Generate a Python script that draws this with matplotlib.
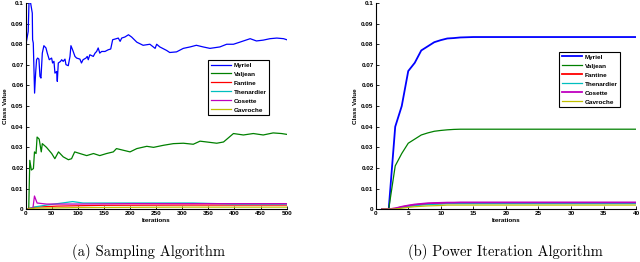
import numpy as np
import matplotlib
matplotlib.use("Agg")
import matplotlib.pyplot as plt

# ---------------- data: sampling algorithm ----------------
samp_myriel_x = [0, 5, 7, 9.6, 12.8, 13.4, 14.7, 17.2, 19.2, 21, 23, 25.5, 27.5, 29.4, 32, 35, 39,
                 41.5, 45.3, 49.8, 51.7, 54.3, 56.2, 59.4, 60.7, 62.6, 67, 69, 72, 75.4, 77.3, 81.7,
                 85, 86.8, 90, 94.5, 97.7, 104, 107, 110, 115.6, 118, 120, 123, 129.6, 133, 136,
                 139, 142, 145.6, 152, 158, 163, 166.7, 171, 177.5, 181, 184, 190, 197, 203, 213,
                 225, 238, 248, 251, 257, 270, 276, 289, 302, 315, 327, 340, 353, 372, 385, 398,
                 410, 430, 442, 455, 468, 481, 494, 500]
samp_myriel_y = [0.079, 0.0862, 0.105, 0.1, 0.0951, 0.0822, 0.0806, 0.0563, 0.066, 0.0725, 0.0733,
                 0.0728, 0.0644, 0.0636, 0.0757, 0.0793, 0.0782, 0.0757, 0.0725, 0.0733, 0.0709,
                 0.0717, 0.066, 0.0668, 0.062, 0.0709, 0.0717, 0.0725, 0.0717, 0.0728, 0.0701,
                 0.0696, 0.0741, 0.0793, 0.0773, 0.0741, 0.0733, 0.0728, 0.0709, 0.0725, 0.0733,
                 0.0741, 0.0725, 0.0749, 0.0741, 0.0757, 0.0765, 0.0782, 0.0757, 0.0765, 0.0765,
                 0.0773, 0.0777, 0.0822, 0.0825, 0.083, 0.0814, 0.083, 0.0835, 0.0846, 0.0835,
                 0.081, 0.0795, 0.080, 0.078, 0.080, 0.0787, 0.077, 0.076, 0.0763, 0.078, 0.0787,
                 0.0795, 0.0787, 0.078, 0.0787, 0.080, 0.080, 0.081, 0.0827, 0.0816, 0.082, 0.0827,
                 0.083, 0.0827, 0.0822]

samp_valjean_x = [0, 6, 8, 11, 15, 17, 20, 22, 26, 30, 32, 40, 50, 56, 63, 72, 82, 88, 94, 104,
                  117, 130, 142, 155, 168, 174, 187, 200, 213, 232, 245, 264, 283, 302, 321, 334,
                  347, 366, 379, 398, 417, 436, 455, 474, 490, 500]
samp_valjean_y = [0.0, 0.0, 0.0237, 0.019, 0.0197, 0.0278, 0.027, 0.035, 0.034, 0.0278, 0.0318,
                  0.030, 0.027, 0.0245, 0.0278, 0.0254, 0.024, 0.0245, 0.0278, 0.027, 0.026,
                  0.027, 0.026, 0.027, 0.0278, 0.0294, 0.0286, 0.0278, 0.0294, 0.0305, 0.030,
                  0.031, 0.0318, 0.032, 0.0315, 0.033, 0.0326, 0.032, 0.0326, 0.0367, 0.036,
                  0.0367, 0.036, 0.037, 0.0367, 0.0363]

samp_fantine_x = [0, 8, 20, 60, 150, 300, 500]
samp_fantine_y = [0.0, 0.0005, 0.001, 0.0015, 0.0019, 0.002, 0.002]

samp_thenardier_x = [0, 10, 15, 40, 70, 90, 110, 200, 320, 400, 500]
samp_thenardier_y = [0.0, 0.0005, 0.001, 0.002, 0.003, 0.0037, 0.003, 0.003, 0.003, 0.0025, 0.0025]

samp_cosette_x = [0, 14, 17, 22, 40, 100, 200, 350, 500]
samp_cosette_y = [0.0, 0.0005, 0.0064, 0.003, 0.0025, 0.0025, 0.0027, 0.0027, 0.0027]

samp_gavroche_x = [0, 10, 20, 100, 300, 500]
samp_gavroche_y = [0.0, 0.0003, 0.0005, 0.0008, 0.001, 0.001]

# ---------------- data: power iteration ----------------
pow_x = list(range(1, 41))
pow_myriel = [0.0, 0.0, 0.040, 0.050, 0.067, 0.071, 0.077, 0.079, 0.081, 0.082, 0.0828, 0.083,
              0.0833, 0.0834] + [0.0835] * 26
pow_valjean = [0.0, 0.0, 0.021, 0.027, 0.032, 0.034, 0.036, 0.037, 0.0378, 0.0382, 0.0385,
               0.0387] + [0.0388] * 28
pow_fantine = [0.0, 0.0, 0.0003, 0.001, 0.0016, 0.002, 0.0024, 0.0026, 0.0028, 0.0029] + [0.003] * 30
pow_thenardier = [0.0, 0.0, 0.0002, 0.0008, 0.0013, 0.0017, 0.002, 0.0022, 0.0024, 0.0025] + [0.0027] * 30
pow_cosette = [0.0, 0.0, 0.0004, 0.0012, 0.0018, 0.0023, 0.0026, 0.0029, 0.003, 0.0031, 0.0032,
               0.0032] + [0.0033] * 28
pow_gavroche = [0.0, 0.0, 0.0001, 0.0005, 0.0009, 0.0012, 0.0014, 0.0016, 0.0017, 0.0018] + [0.002] * 30

names = ["Myriel", "Valjean", "Fantine", "Thenardier", "Cosette", "Gavroche"]
colors = ["#0000ff", "#008000", "#ff0000", "#00bfbf", "#bf00bf", "#bfbf00"]
y_ticks = [0, 0.01, 0.02, 0.03, 0.04, 0.05, 0.06, 0.07, 0.08, 0.09, 0.1]
y_tick_labels = ["0", "0.01", "0.02", "0.03", "0.04", "0.05", "0.06", "0.07", "0.08", "0.09", "0.1"]
left_xticks = list(range(0, 501, 50))
right_xticks = list(range(0, 41, 5))
captions = ["(a) Sampling Algorithm", "(b) Power Iteration Algorithm"]

fig = plt.figure(figsize=(6.4, 2.62), dpi=100)
axL = fig.add_axes([0.040, 0.2015, 0.408, 0.787])
axR = fig.add_axes([0.587, 0.2015, 0.407, 0.787])

samp = [(samp_myriel_x, samp_myriel_y), (samp_valjean_x, samp_valjean_y),
        (samp_fantine_x, samp_fantine_y), (samp_thenardier_x, samp_thenardier_y),
        (samp_cosette_x, samp_cosette_y), (samp_gavroche_x, samp_gavroche_y)]
for (xs, ys), n, c in zip(samp, names, colors):
    axL.plot(xs, ys, color=c, lw=0.9, label=n)

powd = [pow_myriel, pow_valjean, pow_fantine, pow_thenardier, pow_cosette, pow_gavroche]
pw = [1.3, 0.9, 1.3, 0.9, 1.3, 0.9]
for ys, n, c, w in zip(powd, names, colors, pw):
    axR.plot(pow_x, ys, color=c, lw=w, label=n)

tickfont = dict(family="Liberation Sans", weight="bold", size=4.6)
for ax, xt, xmax in [(axL, left_xticks, 500), (axR, right_xticks, 40)]:
    ax.set_xlim(0, xmax)
    ax.set_ylim(0, 0.1)
    ax.set_xticks(xt)
    ax.set_xticklabels([str(v) for v in xt], fontdict=tickfont)
    ax.set_yticks(y_ticks)
    ax.set_yticklabels(y_tick_labels, fontdict=tickfont)
    ax.tick_params(direction="in", length=2, width=0.6, pad=1.5)
    for s in ["top", "right"]:
        ax.spines[s].set_visible(False)
    for s in ["left", "bottom"]:
        ax.spines[s].set_linewidth(0.8)
    ax.set_xlabel("Iterations", fontdict=tickfont, labelpad=1.5)
    ax.set_ylabel("Class Value", fontdict=tickfont, labelpad=2.5)

legprops = dict(family="Liberation Sans", weight="bold", size=4.6)
axL.legend(loc="upper left", bbox_to_anchor=(0.70, 0.725), prop=legprops, frameon=True,
           fancybox=False, edgecolor="black", framealpha=1, handlelength=3.2,
           handletextpad=0.4, borderpad=0.4, labelspacing=0.55, borderaxespad=0)
axR.legend(loc="upper left", bbox_to_anchor=(0.704, 0.764), prop=legprops, frameon=True,
           fancybox=False, edgecolor="black", framealpha=1, handlelength=3.2,
           handletextpad=0.4, borderpad=0.4, labelspacing=0.55, borderaxespad=0)
for lg in [axL.get_legend(), axR.get_legend()]:
    lg.get_frame().set_linewidth(0.8)

fig.text(0.232, 0.022, captions[0], family="cmr10", size=10.5, ha="center", va="baseline")
fig.text(0.79, 0.022, captions[1], family="cmr10", size=10.5, ha="center", va="baseline")

fig.savefig("out.png", dpi=100)
